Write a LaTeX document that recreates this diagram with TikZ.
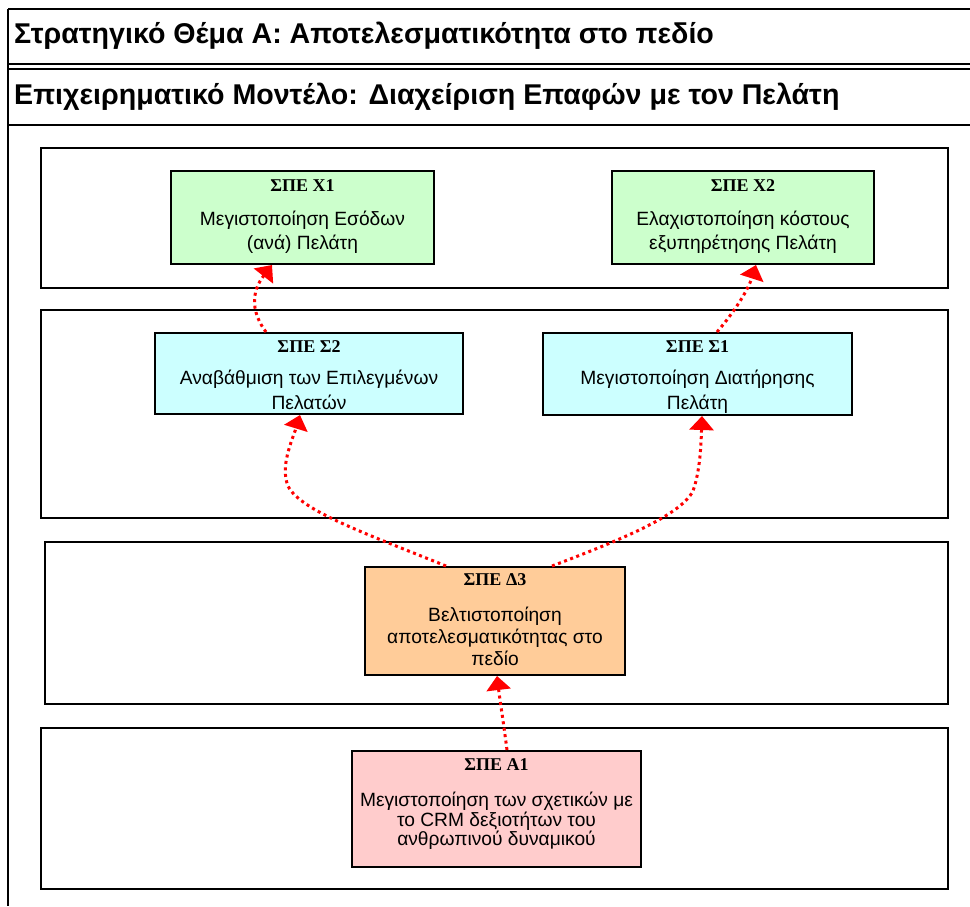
\documentclass[tikz,border=0pt]{standalone}
\usepackage{fontspec}
\setmainfont{Liberation Sans}
\newfontfamily\titleserif{Liberation Serif}
\usetikzlibrary{calc,arrows.meta}

\definecolor{kpigreen}{HTML}{CCFFCC}
\definecolor{kpicyan}{HTML}{CCFFFF}
\definecolor{kpiorange}{HTML}{FFCC99}
\definecolor{kpipink}{HTML}{FFCCCC}
\definecolor{linkred}{HTML}{FF0000}

\tikzset{
  rowline/.style={line width=1.5pt, black},
  band/.style={draw=black, line width=1.5pt},
  spebox/.style={draw=black, line width=2pt, inner sep=0pt, rectangle},
  ttltxt/.style={anchor=base, inner sep=0pt, font=\titleserif\bfseries\fontsize{18}{20}\selectfont},
  bodytxt/.style={anchor=base, inner sep=0pt, font=\fontsize{19.2}{22}\selectfont},
  hdrtxt/.style={anchor=base west, inner sep=0pt, font=\bfseries\fontsize{28.6}{32}\selectfont},
  link/.style={draw=linkred, line width=3pt, dash pattern=on 3pt off 3.5pt,
    -{Triangle[length=14pt,width=24pt,fill=linkred]}},
}

% body lines of a box: #1 box, #2 first baseline below top, #3 line step, #4 lines
\newcommand\speLines[4]{%
  \foreach \ln [count=\k from 0] in {#4} {
    \node[bodytxt] (#1-l\k) at ($(#1.north)+(0,#2+#3*\k)$) {\ln};
  }%
}

\begin{document}
\begin{tikzpicture}[x=1pt,y=-1pt]
\useasboundingbox (0,0) rectangle (970,906);

% header rows
\draw[rowline] (8,9) -- (970,9);
\draw[rowline] (8,64) -- (970,64);
\draw[rowline] (8,69) -- (970,69);
\draw[rowline] (8,125) -- (970,125);
\draw[rowline] (8,9) -- (8,906);
\node[hdrtxt] (theme) at (14,43) {Στρατηγικό Θέμα Α: Αποτελεσματικότητα στο πεδίο};
\node[hdrtxt] (model) at (14,104) {Επιχειρηματικό Μοντέλο: Διαχείριση Επαφών με τον Πελάτη};

% perspective bands
\draw[band] (41,148) rectangle (948,288);
\draw[band] (41,310) rectangle (948,518);
\draw[band] (45,542) rectangle (948,704);
\draw[band] (41,728) rectangle (948,889);

% financial
\node[spebox, fill=kpigreen, minimum width=263pt, minimum height=93pt] (x1) at (302.5,217.5) {};
\node[ttltxt] (x1-t) at ($(x1.north)+(0,21)$) {ΣΠΕ Χ1};
\speLines{x1}{55.7}{24}{Μεγιστοποίηση Εσόδων,(ανά) Πελάτη}

\node[spebox, fill=kpigreen, minimum width=262pt, minimum height=93pt] (x2) at (743,217.5) {};
\node[ttltxt] (x2-t) at ($(x2.north)+(0,21)$) {ΣΠΕ Χ2};
\speLines{x2}{55.7}{24}{Ελαχιστοποίηση κόστους,εξυπηρέτησης Πελάτη}

% customer
\node[spebox, fill=kpicyan, minimum width=308pt, minimum height=81pt] (s2) at (309,373.5) {};
\node[ttltxt] (s2-t) at ($(s2.north)+(0,20)$) {ΣΠΕ Σ2};
\speLines{s2}{52}{25.7}{Αναβάθμιση των Επιλεγμένων,Πελατών}

\node[spebox, fill=kpicyan, minimum width=309pt, minimum height=82pt] (s1) at (697.5,374) {};
\node[ttltxt] (s1-t) at ($(s1.north)+(0,20)$) {ΣΠΕ Σ1};
\speLines{s1}{52}{25.7}{Μεγιστοποίηση Διατήρησης,Πελάτη}

% internal processes
\node[spebox, fill=kpiorange, minimum width=260pt, minimum height=108pt] (d3) at (495,621) {};
\node[ttltxt] (d3-t) at ($(d3.north)+(0,19)$) {ΣΠΕ Δ3};
\speLines{d3}{55}{22.2}{Βελτιστοποίηση,αποτελεσματικότητας στο,πεδίο}

% learning and growth
\node[spebox, fill=kpipink, minimum width=289pt, minimum height=116pt] (a1) at (496.5,809) {};
\node[ttltxt] (a1-t) at ($(a1.north)+(0,20.7)$) {ΣΠΕ Α1};
\speLines{a1}{56.7}{19.5}{Μεγιστοποίηση των σχετικών με,το CRM δεξιοτήτων του,ανθρωπινού δυναμικού}

% cause-and-effect links
\draw[link] ($(s2.north)+(-43,0)$) .. controls +(-21,-28) and +(-14,18) .. ($(x1.south)+(-30.5,0)$);
\draw[link] ($(s1.north)+(19.5,0)$) .. controls +(18,-21) and +(-8,25) .. ($(x2.south)+(13,0)$);
\coordinate (bendL) at ($(s2.south)+(-21,71)$);
\draw[link] ($(d3.north)+(-49,0)$) .. controls +(-76,-31) and +(12,25) .. (bendL)
  .. controls +(-8,-20) and +(-8,26) .. ($(s2.south)+(-9,0)$);
\coordinate (bendR) at ($(s1.south)+(-4.5,75)$);
\draw[link] ($(d3.north)+(57,0)$) .. controls +(68,-26) and +(-13,25) .. (bendR)
  .. controls +(7,-20) and +(-1,30) .. ($(s1.south)+(4.5,0)$);
\draw[link] ($(a1.north)+(10.5,0)$) .. controls +(-4,-31) and +(3,25) .. ($(d3.south)+(2,0)$);
\end{tikzpicture}
\end{document}
